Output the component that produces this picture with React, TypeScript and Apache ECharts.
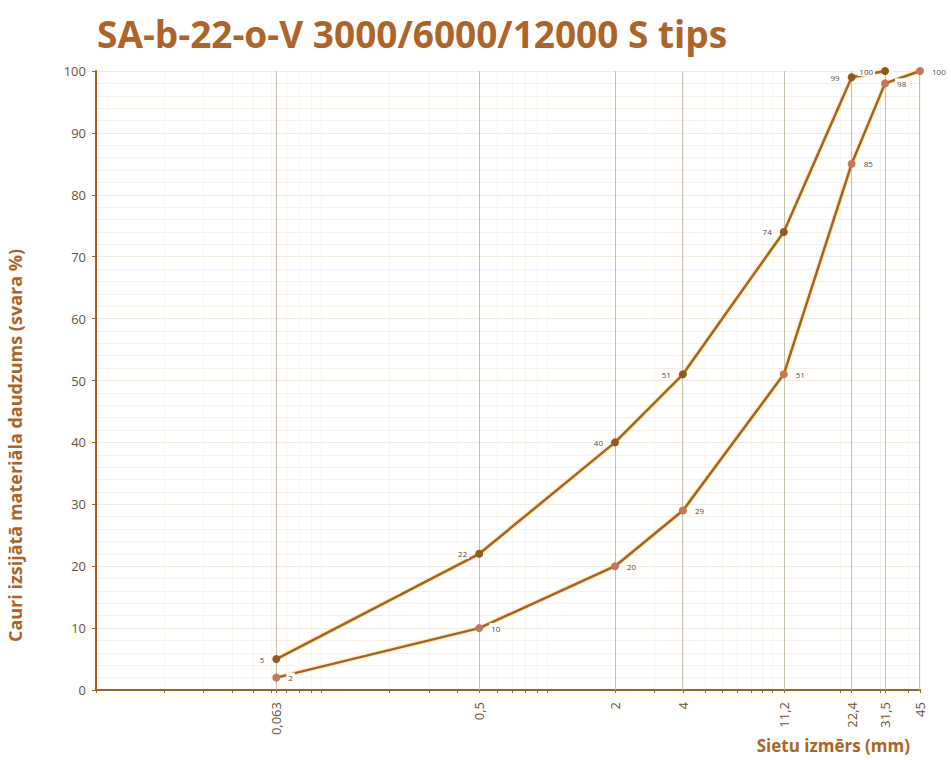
import React, { useEffect, useRef } from "react";
import * as echarts from "echarts";

const sieveSizes = [0.063, 0.5, 2, 4, 11.2, 22.4, 31.5, 45];
const sieveLabels = ["0,063", "0,5", "2", "4", "11,2", "22,4", "31,5", "45"];
const upperSizes = [0.063, 0.5, 2, 4, 11.2, 22.4, 31.5];
const upperValues = [5, 22, 40, 51, 74, 99, 100];
const lowerSizes = [0.063, 0.5, 2, 4, 11.2, 22.4, 31.5, 45];
const lowerValues = [2, 10, 20, 29, 51, 85, 98, 100];
const yTicks = [0, 10, 20, 30, 40, 50, 60, 70, 80, 90, 100];

const lg = (v: number) => Math.log10(v);

export default function App() {
  const ref = useRef<HTMLDivElement>(null);
  useEffect(() => {
    document.body.style.margin = "0";
    if (!ref.current) return;
    const chart = echarts.init(ref.current, null, { renderer: "svg" });

    const minorTicks: number[] = [];
    for (let e = -2; e <= 1; e++) {
      for (let k = 1; k <= 9; k++) {
        const v = k * Math.pow(10, e);
        if (v <= 45) minorTicks.push(lg(v));
      }
    }
    const sieveLog = sieveSizes.map(lg);
    const allTicks = minorTicks.concat(sieveLog);

    const fmtX = (v: number) => {
      const i = sieveLog.findIndex((s) => Math.abs(s - v) < 1e-6);
      return i >= 0 ? sieveLabels[i] : "";
    };

    const font = "Open Sans";
    const brown = "#9c6526";
    const lineColor = "#a5641f";
    const titleColor = "#ad6428";
    const tickText = "#6b5236";

    const labelBase = {
      show: true,
      fontSize: 8,
      fontFamily: font,
      color: "#5e4a36",
      backgroundColor: "#ffffff",
      padding: [1, 2],
      distance: 6,
    };

    chart.setOption({
      animation: false,
      backgroundColor: "#ffffff",
      title: {
        text: "SA-b-22-o-V 3000/6000/12000 S tips",
        left: 92,
        top: 10,
        textStyle: {
          fontFamily: font,
          fontWeight: "bold",
          fontSize: 37,
          color: titleColor,
        },
      },
      grid: {
        left: 96,
        right: 31,
        top: 71,
        bottom: 70,
        containLabel: false,
        outerBoundsMode: "none",
      },
      xAxis: {
        type: "value",
        min: -2,
        max: lg(45),
        name: "Sietu izmērs (mm)",
        nameLocation: "end",
        nameGap: -10,
        nameTextStyle: {
          fontFamily: font,
          fontWeight: "bold",
          fontSize: 17,
          color: titleColor,
          align: "right",
          verticalAlign: "top",
          padding: [47, 0, 0, 0],
        },
        axisLine: { show: true, onZero: false, lineStyle: { color: brown, width: 2 } },
        axisTick: {
          show: true,
          customValues: allTicks,
          length: 3,
          lineStyle: { color: brown, width: 1 },
        },
        axisLabel: {
          customValues: sieveLog,
          formatter: fmtX,
          rotate: 90,
          margin: 12,
          fontSize: 13,
          fontFamily: font,
          color: tickText,
        },
        splitLine: { show: true, lineStyle: { color: "#f7f3ed", width: 1 } },
      },
      yAxis: {
        type: "value",
        min: 0,
        max: 100,
        interval: 10,
        name: "Cauri izsijātā materiāla daudzums (svara %)",
        nameLocation: "middle",
        nameGap: 72,
        nameRotate: 90,
        nameTextStyle: {
          fontFamily: font,
          fontWeight: "bold",
          fontSize: 18,
          color: titleColor,
          padding: [0, 130, 0, 0],
        },
        axisLine: { show: true, onZero: false, lineStyle: { color: brown, width: 2 } },
        axisTick: { show: true, length: 4, lineStyle: { color: brown, width: 1 } },
        axisLabel: {
          fontSize: 13,
          fontFamily: font,
          color: tickText,
          margin: 10,
          formatter: (v: number) => (yTicks.includes(v) ? String(v) : ""),
        },
        splitLine: { show: true, lineStyle: { color: "#f1eadf", width: 1 } },
        minorTick: { show: false, splitNumber: 5 },
        minorSplitLine: { show: true, lineStyle: { color: "#f6f1e8", width: 1 } },
      },
      series: [
        {
          type: "line",
          z: 1,
          data: [],
          silent: true,
          markLine: {
            silent: true,
            z: 1,
            symbol: "none",
            label: { show: false },
            lineStyle: { color: "#c9bfae", width: 1, type: "solid" },
            data: sieveLog.map((v) => ({ xAxis: v })),
          },
        },
        {
          name: "upper",
          type: "line",
          z: 3,
          data: upperSizes.map((s, i) => [lg(s), upperValues[i]]),
          symbol: "circle",
          symbolSize: 8,
          lineStyle: {
            color: lineColor,
            width: 2.5,
            shadowColor: "rgba(240,190,90,0.9)",
            shadowBlur: 2,
          },
          itemStyle: { color: "#8e5b1c" },
          label: { ...labelBase, position: "left" },
        },
        {
          name: "lower",
          type: "line",
          z: 3,
          data: lowerSizes.map((s, i) => [lg(s), lowerValues[i]]),
          symbol: "circle",
          symbolSize: 8,
          lineStyle: {
            color: lineColor,
            width: 2.5,
            shadowColor: "rgba(240,190,90,0.9)",
            shadowBlur: 2,
          },
          itemStyle: { color: "#c77658" },
          label: { ...labelBase, position: "right" },
        },
      ],
    });
    return () => chart.dispose();
  }, []);
  return <div ref={ref} style={{ width: 951, height: 760 }} />;
}
